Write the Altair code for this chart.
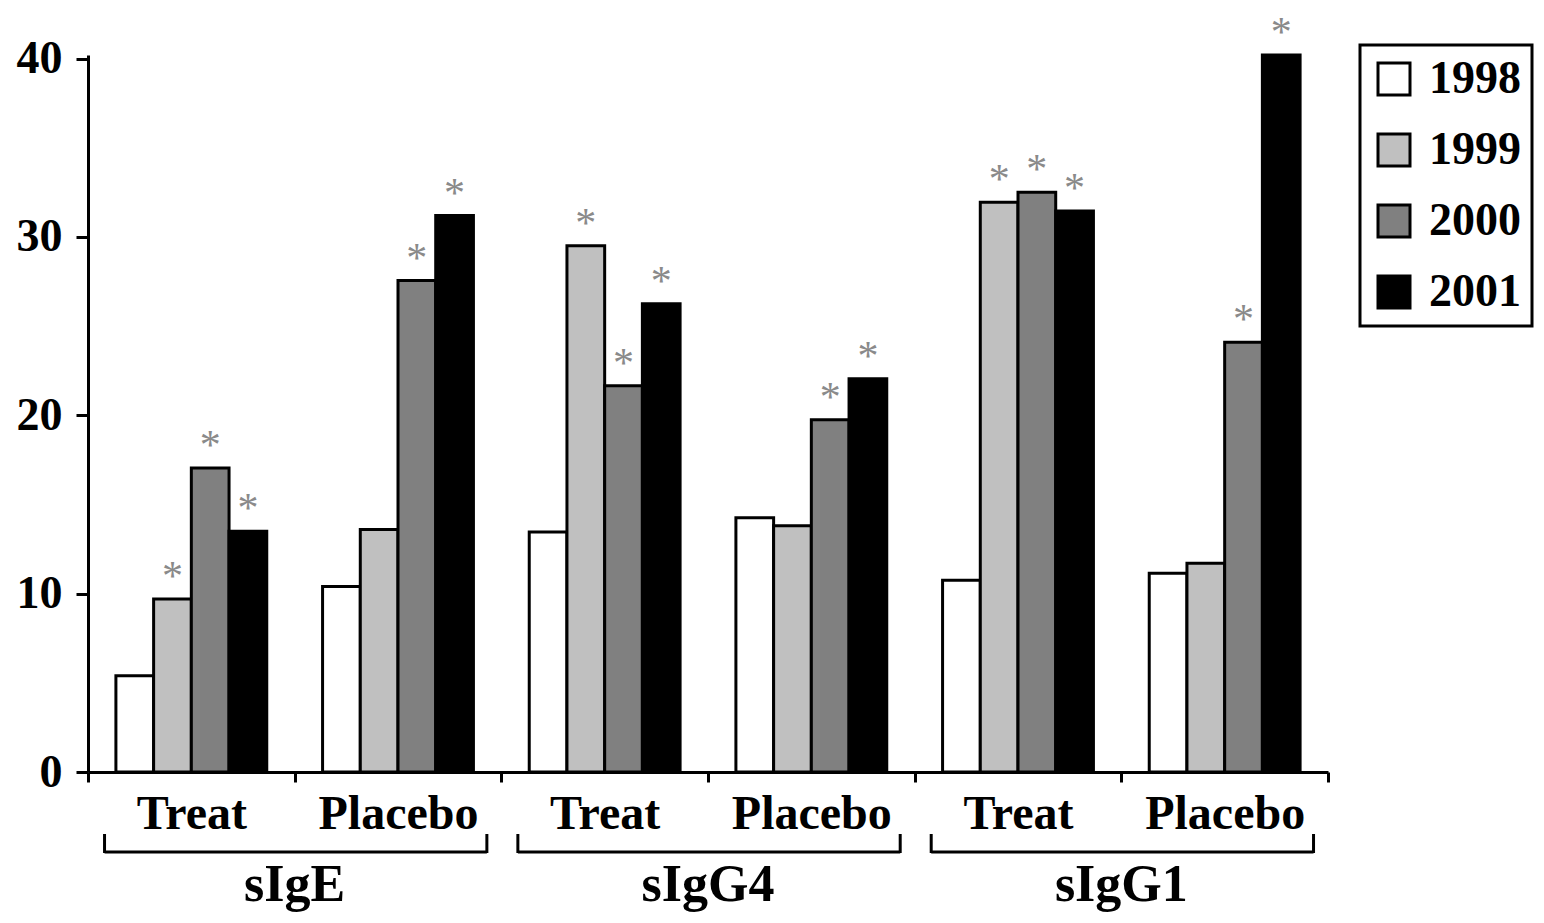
import altair as alt
import pandas as pd

# ---- data ----
markers = ["sIgE", "sIgE", "sIgG4", "sIgG4", "sIgG1", "sIgG1"]
arms = ["Treat", "Placebo", "Treat", "Placebo", "Treat", "Placebo"]
years = ["1998", "1999", "2000", "2001"]
v1998 = [5.4, 10.4, 13.45, 14.25, 10.75, 11.15]
v1999 = [9.7, 13.6, 29.5, 13.8, 31.95, 11.7]
v2000 = [17.05, 27.55, 21.65, 19.75, 32.5, 24.1]
v2001 = [13.5, 31.2, 26.25, 22.05, 31.45, 40.2]
s1998 = [False, False, False, False, False, False]
s1999 = [True, False, True, False, True, False]
s2000 = [True, True, True, True, True, True]
s2001 = [True, True, True, True, True, True]
colors = ["#ffffff", "#c0c0c0", "#808080", "#000000"]
y_ticks = [0, 10, 20, 30, 40]

cells = [f"{m} {a}" for m, a in zip(markers, arms)]
rows = []
for yr, vals, stars in zip(years, [v1998, v1999, v2000, v2001], [s1998, s1999, s2000, s2001]):
    for c, v, s in zip(cells, vals, stars):
        rows.append({"cell": c, "year": yr, "value": v, "star": s})
df = pd.DataFrame(rows)
df_star = df[df["star"]].copy()

group_names = ["sIgE", "sIgG4", "sIgG1"]
df_grp = pd.DataFrame({
    "group": group_names,
    "cell": [cells[0], cells[2], cells[4]],
    "cell2": [cells[1], cells[3], cells[5]],
})

FONT = "Liberation Serif"
H = 717
xs = alt.Scale(domain=cells, paddingInner=0, paddingOuter=0)
xaxis = alt.Axis(
    title=None, labelAngle=0, labelExpr="split(datum.label, ' ')[1]",
    labelFont=FONT, labelFontSize=48, labelFontWeight="bold", labelColor="black",
    labelBaseline="alphabetic", labelPadding=46,
    tickSize=10, tickWidth=3, tickColor="black", tickBand="extent",
    domainWidth=3, domainColor="black", grid=False,
)
ys = alt.Scale(domain=[0, 40.2], nice=False, zero=True)
yaxis = alt.Axis(
    title=None, values=y_ticks, labelFont=FONT, labelFontSize=46,
    labelFontWeight="bold", labelColor="black", labelPadding=14,
    tickSize=12, tickWidth=3, tickColor="black",
    domainWidth=3, domainColor="black", grid=False,
)
xoff = alt.XOffset("year:N", sort=years,
                   scale=alt.Scale(domain=years, paddingInner=0, paddingOuter=0.74))

bars = alt.Chart(df).mark_bar(stroke="black", strokeWidth=3).encode(
    x=alt.X("cell:N", sort=cells, scale=xs, axis=xaxis),
    xOffset=xoff,
    y=alt.Y("value:Q", scale=ys, axis=yaxis),
    fill=alt.Fill("year:N", sort=years,
                  scale=alt.Scale(domain=years, range=colors),
                  legend=alt.Legend(
                      title=None, orient="none", legendX=1272, legendY=-10,
                      symbolType="square", symbolSize=1024,
                      symbolStrokeColor="black", symbolStrokeWidth=3,
                      labelFont=FONT, labelFontSize=46, labelFontWeight="bold",
                      labelColor="black", labelOffset=12, rowPadding=25,
                      padding=11, strokeColor="black",
                  )),
)

stars = alt.Chart(df_star).mark_text(
    text="*", font=FONT, fontSize=42, color="#8a8a8a",
    baseline="alphabetic", dy=-9,
).encode(
    x=alt.X("cell:N", sort=cells, scale=xs, axis=xaxis),
    xOffset=xoff,
    y=alt.Y("value:Q", scale=ys, axis=yaxis),
)

bracket_h = alt.Chart(df_grp).mark_rule(color="black", strokeWidth=3).encode(
    x=alt.X("cell:N", sort=cells, scale=xs, axis=xaxis, bandPosition=0.08),
    x2=alt.X2("cell2:N", bandPosition=0.93),
    y=alt.value(H + 80),
)
bracket_l = alt.Chart(df_grp).mark_rule(color="black", strokeWidth=3).encode(
    x=alt.X("cell:N", sort=cells, scale=xs, axis=xaxis, bandPosition=0.08),
    y=alt.value(H + 62), y2=alt.value(H + 81),
)
bracket_r = alt.Chart(df_grp).mark_rule(color="black", strokeWidth=3).encode(
    x=alt.X("cell2:N", sort=cells, scale=xs, axis=xaxis, bandPosition=0.93),
    y=alt.value(H + 62), y2=alt.value(H + 81),
)
grp_text = alt.Chart(df_grp).mark_text(
    font=FONT, fontSize=52, fontWeight="bold", color="black", baseline="alphabetic",
).encode(
    x=alt.X("cell:N", sort=cells, scale=xs, axis=xaxis, bandPosition=1),
    y=alt.value(H + 129),
    text="group:N",
)

chart = alt.layer(bars, stars, bracket_h, bracket_l, bracket_r, grp_text).properties(
    width=1240, height=H,
    autosize=alt.AutoSizeParams(type="none"),
    padding={"left": 80, "top": 47, "right": 208, "bottom": 142},
).configure_view(stroke=None).configure_legend(strokeWidth=3)

chart.save("out.html", embed_options={"renderer": "svg", "actions": False})
